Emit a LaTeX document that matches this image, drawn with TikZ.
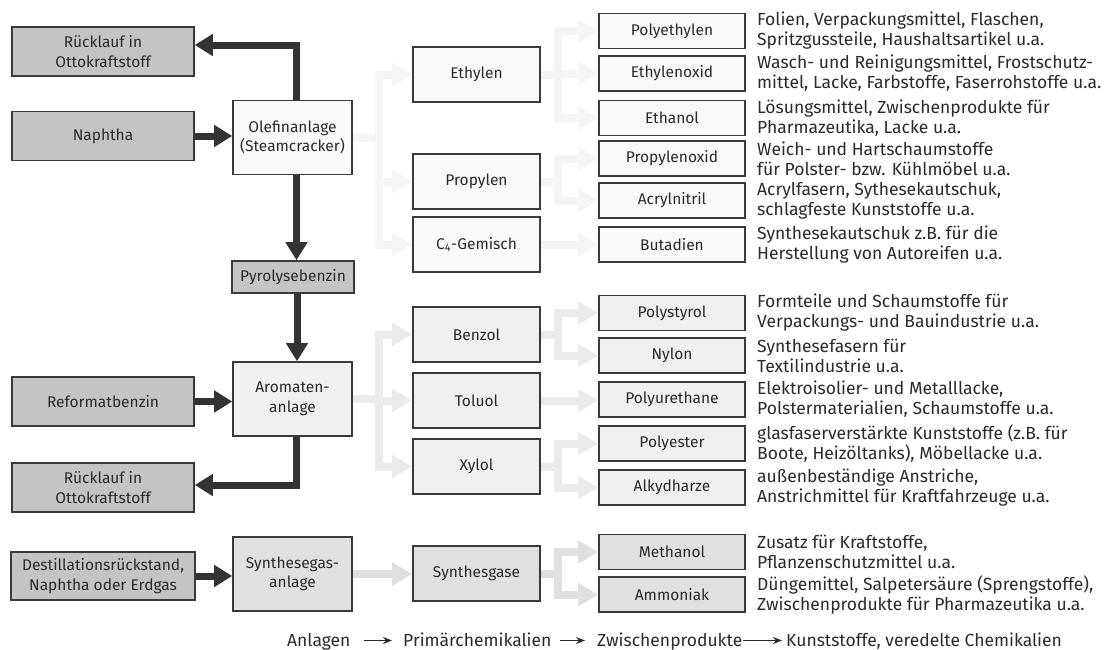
\documentclass[tikz,border=0pt]{standalone}
\usepackage{fontspec}
\setmainfont{Fira Sans}
\usetikzlibrary{arrows.meta,calc}

\definecolor{ink}{HTML}{2A2A2A}
\definecolor{frame}{HTML}{3A3A3A}
\definecolor{feedfill}{HTML}{C4C4C4}
\definecolor{olefill}{HTML}{F9F9F9}
\definecolor{arofill}{HTML}{F0F0F0}
\definecolor{synfill}{HTML}{E0E0E0}
\definecolor{olearrow}{HTML}{F5F5F5}
\definecolor{aroarrow}{HTML}{EBEBEB}
\definecolor{synarrow}{HTML}{E0E0E0}
\definecolor{darkflow}{HTML}{333333}

\begin{document}
\begin{tikzpicture}[x=1pt,y=-1pt,
  every node/.style={text=ink},
  box/.style={draw=frame, line width=1.6pt, inner sep=0pt, align=center,
    font=\fontsize{15.5}{19.5}\selectfont},
  feed/.style={box, fill=feedfill, minimum width=182pt, minimum height=49pt},
  plant/.style={box, minimum width=119pt, minimum height=74pt},
  prim/.style={box, minimum width=127pt, minimum height=55pt},
  inter/.style={box, minimum width=146pt, minimum height=35pt},
  desc/.style={anchor=west, inner sep=0pt, align=left,
    font=\fontsize{17.5}{20}\selectfont},
  legend/.style={anchor=base west, inner sep=0pt, font=\fontsize{17.5}{20}\selectfont},
  darkarrow/.style={draw=darkflow, line width=7pt,
    -{Triangle[length=18pt,width=21pt]}},
  flowline/.style={line width=8pt},
  flowtip/.style={line width=8pt, -{Triangle[length=20pt,width=22pt]}},
  legarrow/.style={draw=ink, line width=1.4pt, -{Stealth[length=9pt,width=7pt]}}
]
\useasboundingbox (0,0) rectangle (1106,649);

% ---------- raw materials and returns ----------
\node[feed] (rueck1)   at (103,51.5)  {Rücklauf in\\Ottokraftstoff};
\node[feed] (naphtha)  at (103,136)   {Naphtha};
\node[feed] (reformat) at (103,401.5) {Reformatbenzin};
\node[feed] (rueck2)   at (103,487.5) {Rücklauf in\\Ottokraftstoff};
\node[feed, minimum width=184pt, minimum height=48pt] (destill) at (103,576)
  {Destillationsrückstand,\\Naphtha oder Erdgas};

% ---------- plants ----------
\node[plant, fill=olefill] (olefin)   at (292.5,137.5) {Olefinanlage\\(Steamcracker)};
\node[box, fill=feedfill, minimum width=122pt, minimum height=32pt] (pyro)
  at (293,277) {Pyrolysebenzin};
\node[plant, fill=arofill] (aromaten) at (292.5,399) {Aromaten-\\anlage};
\node[plant, fill=synfill] (synthese) at (292.5,574) {Synthesegas-\\anlage};

% ---------- primary chemicals ----------
\node[prim, fill=olefill] (ethylen)   at (476.5,74.5)  {Ethylen};
\node[prim, fill=olefill] (propylen)  at (476.5,181.5) {Propylen};
\node[prim, fill=olefill] (c4)        at (476.5,244.5) {C\textsubscript{4}-Gemisch};
\node[prim, fill=arofill] (benzol)    at (476.5,334.5) {Benzol};
\node[prim, fill=arofill] (toluol)    at (476.5,400.5) {Toluol};
\node[prim, fill=arofill] (xylol)     at (476.5,466.5) {Xylol};
\node[prim, fill=synfill] (synthgase) at (476.5,573.5) {Synthesgase};

% ---------- intermediates ----------
\node[inter, fill=olefill] (polyethylen)  at (672,31)    {Polyethylen};
\node[inter, fill=olefill] (ethylenoxid)  at (672,73.5)  {Ethylenoxid};
\node[inter, fill=olefill] (ethanol)      at (672,118)   {Ethanol};
\node[inter, fill=olefill] (propylenoxid) at (672,158.5) {Propylenoxid};
\node[inter, fill=olefill] (acrylnitril)  at (672,200.5) {Acrylnitril};
\node[inter, fill=olefill] (butadien)     at (672,244.5) {Butadien};
\node[inter, fill=arofill] (polystyrol)   at (672,313)   {Polystyrol};
\node[inter, fill=arofill] (nylon)        at (672,355.5) {Nylon};
\node[inter, fill=arofill] (polyurethane) at (672,399.5) {Polyurethane};
\node[inter, fill=arofill] (polyester)    at (672,443.5) {Polyester};
\node[inter, fill=arofill] (alkydharze)   at (672,487.5) {Alkydharze};
\node[inter, fill=synfill] (methanol)     at (672,552)   {Methanol};
\node[inter, fill=synfill] (ammoniak)     at (672,594.5) {Ammoniak};

% ---------- end uses ----------
\node[desc] (dpe)  at (757,31)    {Folien, Verpackungsmittel, Flaschen,\\Spritzgussteile, Haushaltsartikel u.a.};
\node[desc] (deo)  at (757,73.5)  {Wasch- und Reinigungsmittel, Frostschutz-\\mittel, Lacke, Farbstoffe, Faserrohstoffe u.a.};
\node[desc] (deth) at (757,118)   {Lösungsmittel, Zwischenprodukte für\\Pharmazeutika, Lacke u.a.};
\node[desc] (dpo)  at (757,158.5) {Weich- und Hartschaumstoffe\\für Polster- bzw. Kühlmöbel u.a.};
\node[desc] (dacn) at (757,200.5) {Acrylfasern, Sythesekautschuk,\\schlagfeste Kunststoffe u.a.};
\node[desc] (dbut) at (757,244.5) {Synthesekautschuk z.B. für die\\Herstellung von Autoreifen u.a.};
\node[desc] (dps)  at (757,313)   {Formteile und Schaumstoffe für\\Verpackungs- und Bauindustrie u.a.};
\node[desc] (dny)  at (757,355.5) {Synthesefasern für\\Textilindustrie u.a.};
\node[desc] (dpu)  at (757,399.5) {Elektroisolier- und Metalllacke,\\Polstermaterialien, Schaumstoffe u.a.};
\node[desc] (dpes) at (757,443.5) {glasfaserverstärkte Kunststoffe (z.B. für\\Boote, Heizöltanks), Möbellacke u.a.};
\node[desc] (dalk) at (757,487.5) {außenbeständige Anstriche,\\Anstrichmittel für Kraftfahrzeuge u.a.};
\node[desc] (dme)  at (757,552)   {Zusatz für Kraftstoffe,\\Pflanzenschutzmittel u.a.};
\node[desc] (dam)  at (757,594.5) {Düngemittel, Salpetersäure (Sprengstoffe),\\Zwischenprodukte für Pharmazeutika u.a.};

% ---------- branch columns ----------
\coordinate (j1) at (379,0);
\coordinate (j2) at (558,0);

% olefin branch (lightest)
\begin{scope}[draw=olearrow]
  \draw[flowline] (olefin.east) -- (olefin.east -| j1);
  \draw[flowline, line cap=rect] (j1 |- ethylen.west) -- (j1 |- c4.west);
  \foreach \t in {ethylen,propylen,c4}
    \draw[flowtip] (j1 |- \t.west) -- (\t.west);
  \draw[flowline] (ethylen.east) -- (ethylen.east -| j2);
  \draw[flowline, line cap=rect] (j2 |- polyethylen.west) -- (j2 |- ethanol.west);
  \foreach \t in {polyethylen,ethylenoxid,ethanol}
    \draw[flowtip] (j2 |- \t.west) -- (\t.west);
  \draw[flowline] (propylen.east) -- (propylen.east -| j2);
  \draw[flowline, line cap=rect] (j2 |- propylenoxid.west) -- (j2 |- acrylnitril.west);
  \foreach \t in {propylenoxid,acrylnitril}
    \draw[flowtip] (j2 |- \t.west) -- (\t.west);
  \draw[flowtip] (c4.east) -- (butadien.west);
\end{scope}

% aromatics branch
\begin{scope}[draw=aroarrow]
  \draw[flowline] (aromaten.east) -- (aromaten.east -| j1);
  \draw[flowline, line cap=rect] (j1 |- benzol.west) -- (j1 |- xylol.west);
  \foreach \t in {benzol,toluol,xylol}
    \draw[flowtip] (j1 |- \t.west) -- (\t.west);
  \draw[flowline] (benzol.east) -- (benzol.east -| j2);
  \draw[flowline, line cap=rect] (j2 |- polystyrol.west) -- (j2 |- nylon.west);
  \foreach \t in {polystyrol,nylon}
    \draw[flowtip] (j2 |- \t.west) -- (\t.west);
  \draw[flowtip] (toluol.east) -- (toluol.east -| polyurethane.west);
  \draw[flowline] (xylol.east) -- (xylol.east -| j2);
  \draw[flowline, line cap=rect] (j2 |- polyester.west) -- (j2 |- alkydharze.west);
  \foreach \t in {polyester,alkydharze}
    \draw[flowtip] (j2 |- \t.west) -- (\t.west);
\end{scope}

% synthesis gas branch
\begin{scope}[draw=synarrow]
  \draw[flowtip] (synthese.east) -- (synthese.east -| synthgase.west);
  \draw[flowline] (synthgase.east) -- (synthgase.east -| j2);
  \draw[flowline, line cap=rect] (j2 |- methanol.west) -- (j2 |- ammoniak.west);
  \foreach \t in {methanol,ammoniak}
    \draw[flowtip] (j2 |- \t.west) -- (\t.west);
\end{scope}

% ---------- feed and return flows ----------
\draw[darkarrow] ([xshift=4pt]olefin.north) |- ([yshift=6.5pt]rueck1.east);
\draw[darkarrow] (naphtha.east) -- (naphtha.east -| olefin.west);
\draw[darkarrow] ([xshift=4pt]olefin.south) -- ([xshift=4pt]olefin.south |- pyro.north);
\draw[darkarrow] ([xshift=4pt]pyro.south) -- ([xshift=4pt]pyro.south |- aromaten.north);
\draw[darkarrow] (reformat.east) -- (reformat.east -| aromaten.west);
\draw[darkarrow] ([xshift=4pt]aromaten.south) |- ([yshift=2.5pt]rueck2.east);
\draw[darkarrow] (destill.east) -- (destill.east -| synthese.west);

% ---------- legend ----------
\node[legend] (lanl)  at (287,646) {Anlagen};
\node[legend] (lprim) at (403,646) {Primärchemikalien};
\node[legend] (lzw)   at (597,646) {Zwischenprodukte};
\node[legend] (lkun)  at (786,646) {Kunststoffe, veredelte Chemikalien};
\draw[legarrow] ([xshift=13pt,yshift=5.5pt]lanl.base east) -- ([xshift=-11pt,yshift=5.5pt]lprim.base west);
\draw[legarrow] ([xshift=8pt,yshift=5.5pt]lprim.base east) -- ([xshift=-12pt,yshift=5.5pt]lzw.base west);
\draw[legarrow] ([xshift=1pt,yshift=5.5pt]lzw.base east) -- ([xshift=-4pt,yshift=5.5pt]lkun.base west);
\end{tikzpicture}
\end{document}
